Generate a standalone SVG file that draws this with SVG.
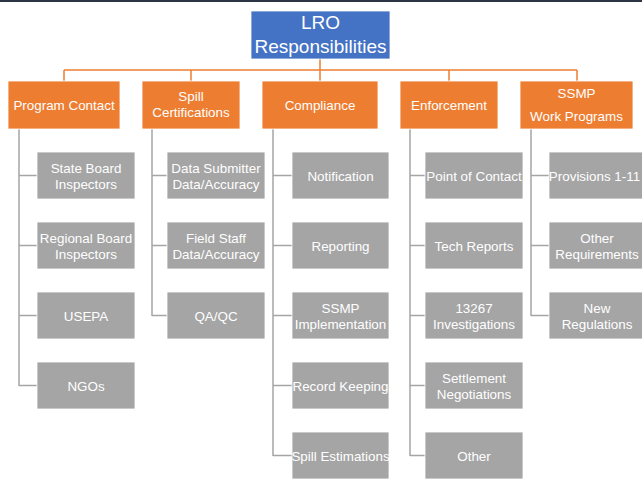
<svg xmlns="http://www.w3.org/2000/svg" width="642" height="479" viewBox="0 0 642 479">
<style>
  text { font-family: "Liberation Sans", Arial, sans-serif; fill: #ffffff; text-anchor: middle; font-size: 13.4px; }
  .title { font-size: 19px; }
  .top { fill: #4472C4; stroke: #ffffff; stroke-width: 0.8; }
  .hdr { fill: #ED7D31; stroke: #ffffff; stroke-width: 0.8; }
  .leaf { fill: #A5A5A5; stroke: #ffffff; stroke-width: 0.8; }
  .oc { stroke: #ED7D31; stroke-width: 1.5; fill: none; }
  .gc { stroke: #A5A5A5; stroke-width: 1.5; fill: none; }
</style>
<rect x="0" y="0" width="642" height="479" fill="#ffffff"/>
<rect x="0" y="0" width="642" height="2" fill="#2b3544"/>

<g id="connectors">
  <path class="oc" d="M320 59 V70 M64 70 H577 M64 70 V81 M191 70 V81 M320 70 V81 M449 70 V81 M577 70 V81"/>
  <path class="gc" d="M19 129 V386 M19 175.5 H37 M19 245.5 H37 M19 315.5 H37 M19 385.5 H37"/>
  <path class="gc" d="M152 129 V316 M152 175.5 H167 M152 245.5 H167 M152 315.5 H167"/>
  <path class="gc" d="M273 129 V456 M273 175.5 H292 M273 245.5 H292 M273 315.5 H292 M273 385.5 H292 M273 455.5 H292"/>
  <path class="gc" d="M410 129 V456 M410 175.5 H425 M410 245.5 H425 M410 315.5 H425 M410 385.5 H425 M410 455.5 H425"/>
  <path class="gc" d="M531 129 V316 M531 175.5 H549 M531 245.5 H549 M531 315.5 H549"/>
</g>

<g id="lro">
  <rect class="top" x="251" y="11" width="139" height="48"/>
  <text class="title" x="320.5" y="29">LRO</text>
  <text class="title" x="320.5" y="52.5">Responsibilities</text>
</g>

<g id="program-contact">
  <rect class="hdr" x="8" y="81" width="112" height="48"/>
  <text x="64" y="109.5">Program Contact</text>
</g>
<g id="spill-certifications">
  <rect class="hdr" x="142" y="81" width="98" height="48"/>
  <text x="191" y="101">Spill</text>
  <text x="191" y="117">Certifications</text>
</g>
<g id="compliance">
  <rect class="hdr" x="262" y="81" width="116" height="48"/>
  <text x="320" y="109.5">Compliance</text>
</g>
<g id="enforcement">
  <rect class="hdr" x="400" y="81" width="98" height="48"/>
  <text x="449" y="109.5">Enforcement</text>
</g>
<g id="ssmp-work-programs">
  <rect class="hdr" x="520" y="81" width="113" height="48"/>
  <text x="576.5" y="98">SSMP</text>
  <text x="576.5" y="121">Work Programs</text>
</g>

<g id="state-board-inspectors">
  <rect class="leaf" x="37" y="152" width="98" height="47"/>
  <text x="86" y="172.5">State Board</text>
  <text x="86" y="188.5">Inspectors</text>
</g>
<g id="regional-board-inspectors">
  <rect class="leaf" x="37" y="222" width="98" height="47"/>
  <text x="86" y="242.5">Regional Board</text>
  <text x="86" y="258.5">Inspectors</text>
</g>
<g id="usepa">
  <rect class="leaf" x="37" y="292" width="98" height="47"/>
  <text x="86" y="320.5">USEPA</text>
</g>
<g id="ngos">
  <rect class="leaf" x="37" y="362" width="98" height="47"/>
  <text x="86" y="390.5">NGOs</text>
</g>

<g id="data-submitter">
  <rect class="leaf" x="167" y="152" width="98" height="47"/>
  <text x="216" y="172.5">Data Submitter</text>
  <text x="216" y="188.5">Data/Accuracy</text>
</g>
<g id="field-staff">
  <rect class="leaf" x="167" y="222" width="98" height="47"/>
  <text x="216" y="242.5">Field Staff</text>
  <text x="216" y="258.5">Data/Accuracy</text>
</g>
<g id="qa-qc">
  <rect class="leaf" x="167" y="292" width="98" height="47"/>
  <text x="216" y="320.5">QA/QC</text>
</g>

<g id="notification">
  <rect class="leaf" x="292" y="152" width="97" height="47"/>
  <text x="340.5" y="180.5">Notification</text>
</g>
<g id="reporting">
  <rect class="leaf" x="292" y="222" width="97" height="47"/>
  <text x="340.5" y="250.5">Reporting</text>
</g>
<g id="ssmp-implementation">
  <rect class="leaf" x="292" y="292" width="97" height="47"/>
  <text x="340.5" y="312.5">SSMP</text>
  <text x="340.5" y="328.5">Implementation</text>
</g>
<g id="record-keeping">
  <rect class="leaf" x="292" y="362" width="97" height="47"/>
  <text x="340.5" y="390.5">Record Keeping</text>
</g>
<g id="spill-estimations">
  <rect class="leaf" x="292" y="432" width="97" height="47"/>
  <text x="340.5" y="460.5">Spill Estimations</text>
</g>

<g id="point-of-contact">
  <rect class="leaf" x="425" y="152" width="98" height="47"/>
  <text x="474" y="180.5">Point of Contact</text>
</g>
<g id="tech-reports">
  <rect class="leaf" x="425" y="222" width="98" height="47"/>
  <text x="474" y="250.5">Tech Reports</text>
</g>
<g id="investigations">
  <rect class="leaf" x="425" y="292" width="98" height="47"/>
  <text x="474" y="312.5">13267</text>
  <text x="474" y="328.5">Investigations</text>
</g>
<g id="settlement-negotiations">
  <rect class="leaf" x="425" y="362" width="98" height="47"/>
  <text x="474" y="382.5">Settlement</text>
  <text x="474" y="398.5">Negotiations</text>
</g>
<g id="other">
  <rect class="leaf" x="425" y="432" width="98" height="47"/>
  <text x="474" y="460.5">Other</text>
</g>

<g id="provisions">
  <rect class="leaf" x="549" y="152" width="98" height="47"/>
  <text x="594.5" y="180.5">Provisions 1-11</text>
</g>
<g id="other-requirements">
  <rect class="leaf" x="549" y="222" width="98" height="47"/>
  <text x="597" y="242.5">Other</text>
  <text x="597" y="258.5">Requirements</text>
</g>
<g id="new-regulations">
  <rect class="leaf" x="549" y="292" width="98" height="47"/>
  <text x="597" y="312.5">New</text>
  <text x="597" y="328.5">Regulations</text>
</g>
</svg>
